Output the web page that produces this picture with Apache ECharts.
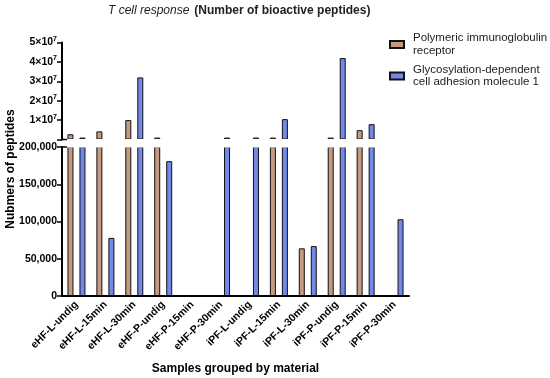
<!DOCTYPE html>
<html><head><meta charset="utf-8">
<script src="https://cdn.jsdelivr.net/npm/echarts@6/dist/echarts.min.js"></script>
<style>html,body{margin:0;padding:0;background:#fff}#c{width:550px;height:378px}</style>
</head><body><div id="c"></div>
<script>
const categories = ["eHF-L-undig","eHF-L-15min","eHF-L-30min","eHF-P-undig","eHF-P-15min","eHF-P-30min","iPF-L-undig","iPF-L-15min","iPF-L-30min","iPF-P-undig","iPF-P-15min","iPF-P-30min"];
const seriesNames = ["Polymeric immunoglobulin receptor","Glycosylation-dependent cell adhesion molecule 1"];
const pigrValues = [2700000, 4200000, 10000000, 1000000, 0, 0, 0, 1000000, 64000, 1000000, 4800000, 0];
const glycamValues = [1000000, 78000, 32000000, 181000, 0, 1000000, 1000000, 10500000, 67000, 42000000, 7900000, 103000];
const lowerTicks = [0, 50000, 100000, 150000, 200000];
const upperTicks = [0, 10000000, 20000000, 30000000, 40000000, 50000000];
const legendLabels = ["Polymeric immunoglobulin\nreceptor","Glycosylation-dependent\ncell adhesion molecule 1"];

const FONT = "Liberation Sans, Arial, sans-serif";
const colors = ["#c49a80", "#7289ea"];
const lowerMax = lowerTicks[lowerTicks.length-1];
const upperStep = upperTicks[1] - upperTicks[0];

const chart = echarts.init(document.getElementById('c'), null, {renderer: 'canvas'});

function lowerData(arr){ return arr.map(v => v === 0 ? '-' : v); }
function upperData(arr){ return arr.map(v => v > lowerMax ? v : '-'); }

const barCommon = {
  type: 'bar', barWidth: 6, barGap: '100%', clip: true, z: 2
};

const axisZ = 10;

const option = {
  animation: false,
  textStyle: {fontFamily: FONT},
  title: {
    text: '{i|T cell response} {b|(Number of bioactive peptides)}',
    left: 103, top: -3,
    textStyle: {
      rich: {
        i: {fontStyle: 'italic', fontWeight: 'normal', fontSize: 12, color: '#222', fontFamily: FONT},
        b: {fontWeight: 'bold', fontSize: 12, color: '#222', fontFamily: FONT}
      }
    }
  },
  legend: {
    data: seriesNames,
    orient: 'vertical', left: 389, top: 32, itemGap: 6.5, padding: 0,
    itemWidth: 14, itemHeight: 7, icon: 'rect',
    formatter: name => legendLabels[seriesNames.indexOf(name)],
    textStyle: {fontSize: 11.5, lineHeight: 12.5, color: '#222', fontFamily: FONT, padding: [0,0,0,4]}
  },
  grid: [
    {left: 62, top: 147, width: 347, height: 149},
    {left: 62, top: 42.5, width: 347, height: 97}
  ],
  xAxis: [
    {
      type: 'category', gridIndex: 0, data: categories, z: axisZ,
      axisLine: {lineStyle: {color: '#000', width: 2}},
      axisTick: {alignWithLabel: true, length: 5, lineStyle: {color: '#000', width: 1.5}},
      axisLabel: {rotate: 45, fontSize: 10.5, fontWeight: 'bold', color: '#000', margin: 7, interval: 0, fontFamily: FONT},
      name: 'Samples grouped by material', nameLocation: 'middle', nameGap: 67,
      nameTextStyle: {fontSize: 12, fontWeight: 'bold', color: '#000', fontFamily: FONT}
    },
    {
      type: 'category', gridIndex: 1, data: categories, show: false
    }
  ],
  yAxis: [
    {
      type: 'value', gridIndex: 0, min: lowerTicks[0], max: lowerMax, interval: lowerTicks[1]-lowerTicks[0], z: axisZ,
      axisLine: {show: true, lineStyle: {color: '#000', width: 2}},
      axisTick: {show: true, length: 5, lineStyle: {color: '#000', width: 1.5}},
      axisLabel: {fontSize: 10.5, fontWeight: 'bold', color: '#000', margin: 5, fontFamily: FONT,
        formatter: v => v.toLocaleString('en-US')},
      splitLine: {show: false}
    },
    {
      type: 'value', gridIndex: 1, min: upperTicks[0], max: upperTicks[upperTicks.length-1], interval: upperStep, z: axisZ,
      axisLine: {show: true, lineStyle: {color: '#000', width: 2}},
      axisTick: {show: true, length: 5, lineStyle: {color: '#000', width: 1.5}},
      axisLabel: {margin: 5,
        formatter: v => v === 0 ? '' : '{b|' + (v/1e7) + '×10}{s|7}',
        rich: {
          b: {fontSize: 10.5, fontWeight: 'bold', color: '#000', fontFamily: FONT},
          s: {fontSize: 7, fontWeight: 'bold', color: '#000', fontFamily: FONT, padding: [0,0,7,0]}
        }
      },
      splitLine: {show: false}
    }
  ],
  graphic: [
    {type: 'text', x: 11, y: 169, rotation: Math.PI/2, z: 20,
     style: {text: 'Nubmers of peptides', font: 'bold 12px ' + FONT, fill: '#000', align: 'center', verticalAlign: 'middle'}},
    {type: 'rect', z: 5, shape: {x: 63, y: 139, width: 347, height: 8.6}, style: {fill: '#fff'}},
    {type: 'line', z: 20, shape: {x1: 62, y1: 139.5, x2: 67, y2: 139.5}, style: {stroke: '#000', lineWidth: 1.5}},
    {type: 'line', z: 20, shape: {x1: 62, y1: 147, x2: 67, y2: 147}, style: {stroke: '#000', lineWidth: 1.5}}
  ],
  series: [
    Object.assign({}, barCommon, {name: seriesNames[0], xAxisIndex: 0, yAxisIndex: 0, data: lowerData(pigrValues), itemStyle: {color: colors[0], borderColor: '#111', borderWidth: 1}}),
    Object.assign({}, barCommon, {name: seriesNames[1], xAxisIndex: 0, yAxisIndex: 0, data: lowerData(glycamValues), itemStyle: {color: colors[1], borderColor: '#111', borderWidth: 1}}),
    Object.assign({}, barCommon, {name: seriesNames[0], xAxisIndex: 1, yAxisIndex: 1, data: upperData(pigrValues), itemStyle: {color: colors[0], borderColor: '#111', borderWidth: 1}}),
    Object.assign({}, barCommon, {name: seriesNames[1], xAxisIndex: 1, yAxisIndex: 1, data: upperData(glycamValues), itemStyle: {color: colors[1], borderColor: '#111', borderWidth: 1}})
  ]
};
chart.setOption(option);
</script>
</body></html>
